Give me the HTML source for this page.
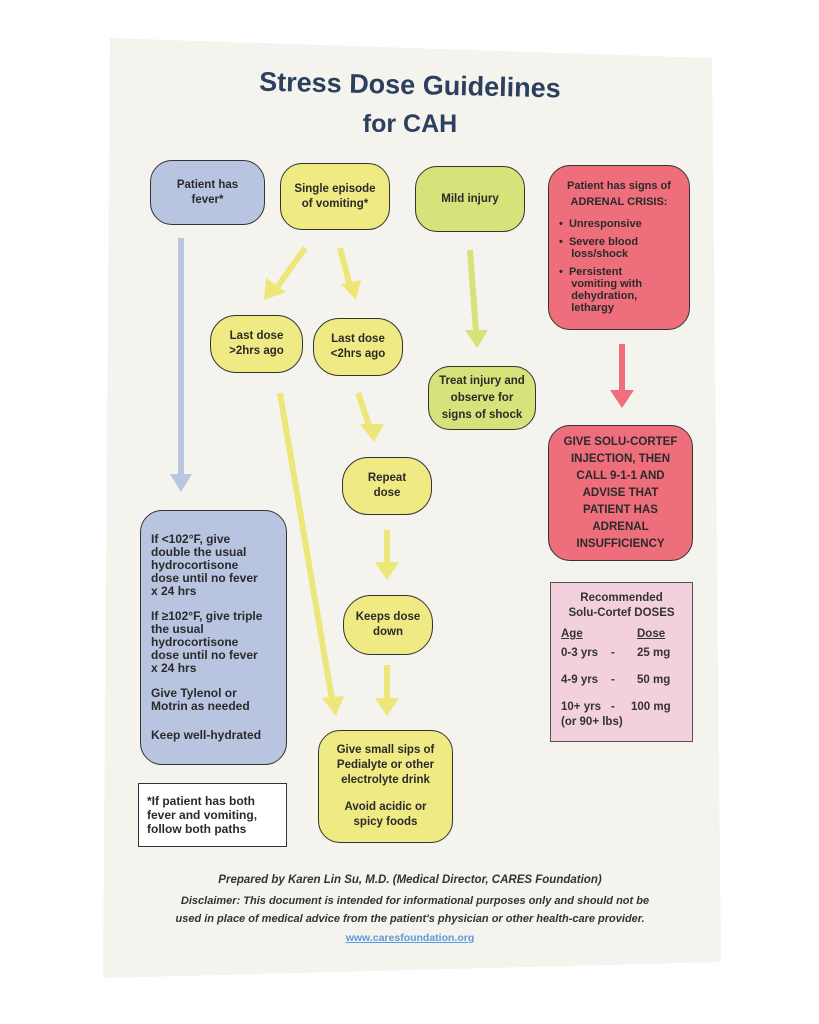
<!DOCTYPE html>
<html><head><meta charset="utf-8"><style>
body{margin:0;width:819px;height:1024px;background:#fff;position:relative;overflow:hidden;font-family:"Liberation Sans",sans-serif;color:#222}
.b{position:absolute;box-sizing:border-box;border:1.5px solid #333;border-radius:22px;display:flex;flex-direction:column;justify-content:center;align-items:center;text-align:center;font-size:11.5px;line-height:15px;font-weight:bold;color:#2a2a2a}
.y{background:#f0ea84}.g{background:#d6e27a}.bl{background:#b9c4e0}.r{background:#ee6f7b}
.t{position:absolute;text-align:center;color:#2c3f5f;font-weight:bold}
.f{position:absolute;left:100px;width:620px;text-align:center;font-style:italic;font-weight:bold;font-size:11px;color:#333}
</style></head><body>
<svg width="819" height="1024" style="position:absolute;left:0;top:0">
<polygon points="110,38 712,58 721,962 103,978" fill="#f4f3ed"/>
<g stroke-width="6" fill="none">
<line x1="181" y1="238" x2="181" y2="476" stroke="#b9c6e2"/>
<line x1="305" y1="248" x2="278" y2="286" stroke="#ede77a"/>
<line x1="340" y1="248" x2="350" y2="286" stroke="#ede77a"/>
<line x1="470" y1="250" x2="476" y2="332" stroke="#d6e27a"/>
<line x1="622" y1="344" x2="622" y2="392" stroke="#ee6f7b"/>
<line x1="280" y1="393" x2="332" y2="700" stroke="#ede77a"/>
<line x1="358" y1="393" x2="370" y2="428" stroke="#ede77a"/>
<line x1="387" y1="530" x2="387" y2="566" stroke="#ede77a"/>
<line x1="387" y1="665" x2="387" y2="702" stroke="#ede77a"/>
</g>
<g>
<polygon points="170,474 192,474 181,492" fill="#b9c6e2"/>
<polygon points="266,278 286,292 264,300" fill="#ede77a"/>
<polygon points="341,284 361,280 356,300" fill="#ede77a"/>
<polygon points="465,330 488,330 477,348" fill="#d6e27a"/>
<polygon points="610,390 634,390 622,408" fill="#ee6f7b"/>
<polygon points="322,698 344,696 336,716" fill="#ede77a"/>
<polygon points="360,424 384,424 374,442" fill="#ede77a"/>
<polygon points="375,562 399,562 387,580" fill="#ede77a"/>
<polygon points="375,698 399,698 387,716" fill="#ede77a"/>
</g>
</svg>
<div class="t" style="left:200px;top:70px;width:420px;font-size:27px;transform:rotate(1.3deg)">Stress Dose Guidelines</div>
<div class="t" style="left:260px;top:110px;width:300px;font-size:25px">for CAH</div>

<div class="b bl" style="left:150px;top:160px;width:115px;height:65px">Patient has<br>fever*</div>
<div class="b y" style="left:280px;top:163px;width:110px;height:67px">Single episode<br>of vomiting*</div>
<div class="b g" style="left:415px;top:166px;width:110px;height:66px">Mild injury</div>
<div class="b r" style="left:548px;top:165px;width:142px;height:165px;align-items:flex-start;justify-content:flex-start;padding:12px 10px;text-align:left;font-size:11px;line-height:12px">
<div style="width:100%;text-align:center;line-height:16px">Patient has signs of<br>ADRENAL CRISIS:</div>
<div style="margin-top:8px">•&nbsp; Unresponsive</div>
<div style="margin-top:6px">•&nbsp; Severe blood<br>&nbsp;&nbsp;&nbsp;&nbsp;loss/shock</div>
<div style="margin-top:6px">•&nbsp; Persistent<br>&nbsp;&nbsp;&nbsp;&nbsp;vomiting with<br>&nbsp;&nbsp;&nbsp;&nbsp;dehydration,<br>&nbsp;&nbsp;&nbsp;&nbsp;lethargy</div>
</div>
<div class="b y" style="left:210px;top:315px;width:93px;height:58px;border-radius:26px">Last dose<br>&gt;2hrs ago</div>
<div class="b y" style="left:313px;top:318px;width:90px;height:58px;border-radius:26px">Last dose<br>&lt;2hrs ago</div>
<div class="b g" style="left:428px;top:366px;width:108px;height:64px;line-height:17px">Treat injury and<br>observe for<br>signs of shock</div>
<div class="b y" style="left:342px;top:457px;width:90px;height:58px;border-radius:26px">Repeat<br>dose</div>
<div class="b r" style="left:548px;top:425px;width:145px;height:136px;line-height:17px">GIVE SOLU-CORTEF<br>INJECTION, THEN<br>CALL 9-1-1 AND<br>ADVISE THAT<br>PATIENT HAS<br>ADRENAL<br>INSUFFICIENCY</div>
<div class="b bl" style="left:140px;top:510px;width:147px;height:255px;align-items:flex-start;text-align:left;padding:0 10px;font-size:12px;line-height:13px">
<div>If &lt;102°F, give<br>double the usual<br>hydrocortisone<br>dose until no fever<br>x 24 hrs</div>
<div style="margin-top:12px">If ≥102°F, give triple<br>the usual<br>hydrocortisone<br>dose until no fever<br>x 24 hrs</div>
<div style="margin-top:12px">Give Tylenol or<br>Motrin as needed</div>
<div style="margin-top:16px">Keep well-hydrated</div>
</div>
<div class="b y" style="left:343px;top:595px;width:90px;height:60px;border-radius:28px">Keeps dose<br>down</div>
<div style="position:absolute;left:550px;top:582px;width:143px;height:160px;box-sizing:border-box;border:1.5px solid #555;background:#f3d0dd;font-size:11.5px;font-weight:bold;color:#333;line-height:15px;padding:8px 10px">
<div style="text-align:center">Recommended<br>Solu-Cortef DOSES</div>
<div style="margin-top:6px"><u>Age</u><span style="position:absolute;left:86px"><u>Dose</u></span></div>
<div style="margin-top:4px">0-3 yrs<span style="position:absolute;left:60px">-</span><span style="position:absolute;left:86px">25 mg</span></div>
<div style="margin-top:12px">4-9 yrs<span style="position:absolute;left:60px">-</span><span style="position:absolute;left:86px">50 mg</span></div>
<div style="margin-top:12px">10+ yrs<span style="position:absolute;left:60px">-</span><span style="position:absolute;left:80px">100 mg</span><br>(or 90+ lbs)</div>
</div>
<div class="b y" style="left:318px;top:730px;width:135px;height:113px;line-height:15px">Give small sips of<br>Pedialyte or other<br>electrolyte drink<div style="margin-top:12px">Avoid acidic or<br>spicy foods</div></div>
<div style="position:absolute;left:138px;top:783px;width:149px;height:64px;box-sizing:border-box;border:1.5px solid #333;background:#fff;font-size:12px;font-weight:bold;line-height:14px;padding:10px 8px;color:#2a2a2a">*If patient has both<br>fever and vomiting,<br>follow both paths</div>
<div class="f" style="top:874px;font-size:11.5px">Prepared by Karen Lin Su, M.D. (Medical Director, CARES Foundation)</div>
<div class="f" style="top:895px;left:120px;width:590px">Disclaimer: This document is intended for informational purposes only and should not be</div>
<div class="f" style="top:913px;left:110px;width:600px">used in place of medical advice from the patient's physician or other health-care provider.</div>
<div class="f" style="top:932px;font-style:normal;color:#5a9ad8;text-decoration:underline;font-size:10.5px">www.caresfoundation.org</div>
</body></html>
